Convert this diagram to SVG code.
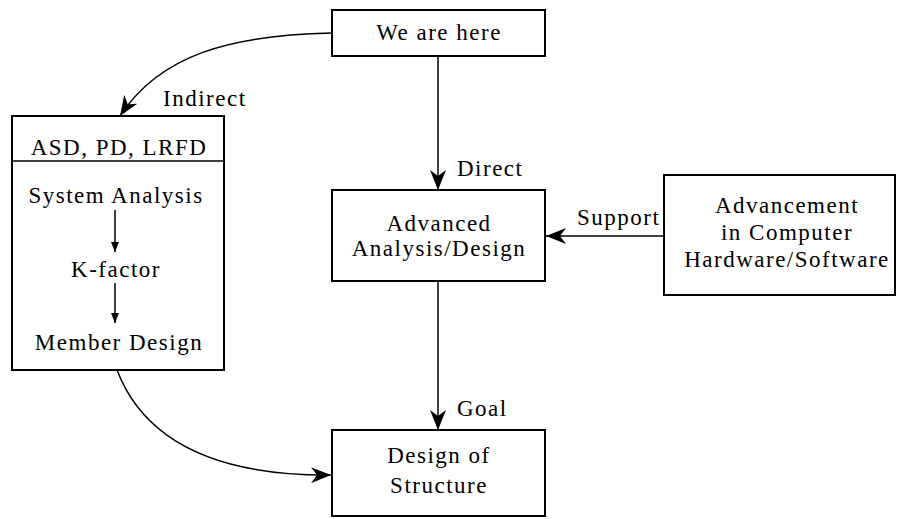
<svg xmlns="http://www.w3.org/2000/svg" width="898" height="519" viewBox="0 0 898 519">
<defs>
<style>
.box{fill:#fff;stroke:#000;stroke-width:2}
.ln{fill:none;stroke:#000;stroke-width:1.5}
.t{font-family:"Liberation Serif","Times New Roman",serif;font-size:23px;fill:#000;letter-spacing:1.5px}
.c{text-anchor:middle}
</style>
<marker id="ah" markerWidth="22" markerHeight="16" refX="20" refY="8" orient="auto" markerUnits="userSpaceOnUse">
<path d="M0,0 L20,8 L0,16 L6,8 Z" fill="#000"/>
</marker>
<marker id="as" markerWidth="10" markerHeight="14" refX="10" refY="4" orient="auto" markerUnits="userSpaceOnUse">
<path d="M0,0 L10,4 L0,8 Z" fill="#000"/>
</marker>
</defs>
<g id="connectors">
<path class="ln" d="M332,33 C230,35 160,55 120,116" marker-end="url(#ah)"/>
<path class="ln" d="M438,56 L438,190" marker-end="url(#ah)"/>
<path class="ln" d="M664,236 L546,236" marker-end="url(#ah)"/>
<path class="ln" d="M438,281 L438,430" marker-end="url(#ah)"/>
<path class="ln" d="M117,370 C140,430 200,476 331,475" marker-end="url(#ah)"/>
<text class="t" x="163" y="106">Indirect</text>
<text class="t" x="457" y="176">Direct</text>
<text class="t" x="577" y="225">Support</text>
<text class="t" x="457" y="416">Goal</text>
</g>
<g id="we-are-here">
<rect class="box" x="332" y="10" width="213" height="46"/>
<text class="t c" x="439" y="40">We are here</text>
</g>
<g id="asd">
<rect class="box" x="12" y="116" width="212" height="254"/>
<line class="ln" x1="12" y1="161" x2="224" y2="161"/>
<text class="t c" x="119" y="155">ASD, PD, LRFD</text>
<text class="t c" x="116" y="203">System Analysis</text>
<line class="ln" x1="115" y1="210" x2="115" y2="252" marker-end="url(#as)"/>
<text class="t c" x="116" y="277">K-factor</text>
<line class="ln" x1="115" y1="283" x2="115" y2="323" marker-end="url(#as)"/>
<text class="t c" x="119" y="350">Member Design</text>
</g>
<g id="advanced">
<rect class="box" x="332" y="190" width="213" height="91"/>
<text class="t c" x="439" y="231">Advanced</text>
<text class="t c" x="439" y="256">Analysis/Design</text>
</g>
<g id="advancement">
<rect class="box" x="664" y="175" width="231" height="120"/>
<text class="t c" x="787" y="213">Advancement</text>
<text class="t c" x="787" y="240">in Computer</text>
<text class="t c" x="787" y="267">Hardware/Software</text>
</g>
<g id="design">
<rect class="box" x="332" y="430" width="213" height="86"/>
<text class="t c" x="439" y="463">Design of</text>
<text class="t c" x="439" y="493">Structure</text>
</g>
</svg>
